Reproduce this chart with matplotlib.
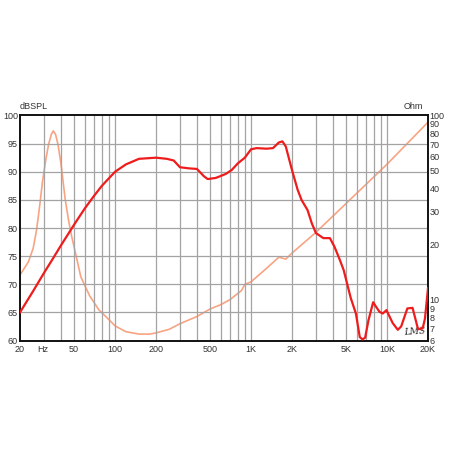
import matplotlib.pyplot as plt
import numpy as np

# SPL response (dB)
spl_freq = [20, 25, 30, 35, 40, 50, 60, 70, 80, 100, 120, 150, 200, 240, 270, 300,
            350, 400, 450, 480, 550, 650, 720, 800, 900, 1000, 1100, 1300, 1450,
            1600, 1700, 1800, 2000, 2200, 2350, 2600, 2800, 3000, 3400, 3800, 4100,
            4500, 4800, 5400, 5900, 6300, 6600, 6900, 7300, 7900, 8300, 8800, 9300,
            9900, 11000, 12000, 12700, 14100, 15400, 16900, 18300, 19000, 20000]
spl_db = [65.0, 68.8, 72.0, 74.6, 76.9, 80.6, 83.5, 85.7, 87.5, 90.0, 91.3, 92.3, 92.5,
          92.3, 92.0, 90.8, 90.6, 90.5, 89.2, 88.7, 88.9, 89.6, 90.3, 91.5, 92.5, 94.0,
          94.2, 94.1, 94.2, 95.2, 95.4, 94.5, 90.3, 86.8, 85.0, 83.2, 80.8, 79.1, 78.2,
          78.2, 76.7, 74.3, 72.5, 67.6, 64.8, 60.6, 60.2, 60.5, 63.6, 66.8, 66.0, 65.1,
          64.8, 65.4, 63.1, 61.9, 62.5, 65.7, 65.8, 62.0, 62.2, 63.9, 69.3]

# impedance (Ohm)
imp_freq = [20, 23, 25, 26.5, 28, 29.3, 31, 32.5, 34, 35.1, 36.5, 38, 40, 43, 45.5, 48,
            52, 56, 65, 76, 90, 100, 120, 150, 180, 200, 250, 300, 400, 500, 600, 700,
            850, 900, 1000, 1300, 1600, 1800, 2000, 3000, 5000, 10000, 20000]
imp_ohm = [13.6, 16.0, 19.0, 24.0, 33.0, 44.0, 58.0, 70.0, 79.0, 82.5, 79.0, 70.0, 55.0,
           35.0, 27.0, 22.0, 17.0, 13.3, 10.5, 8.8, 7.8, 7.2, 6.7, 6.5, 6.5, 6.6, 6.9,
           7.4, 8.1, 8.9, 9.4, 10.0, 11.2, 12.1, 12.5, 14.8, 17.0, 16.6, 17.9, 23.2,
           33.3, 54.4, 92.0]

x_ticks = [20, 50, 100, 200, 500, 1000, 2000, 5000, 10000, 20000]
x_labels = ['20', '50', '100', '200', '500', '1K', '2K', '5K', '10K', '20K']
db_ticks = [60, 65, 70, 75, 80, 85, 90, 95, 100]
ohm_ticks = [6, 7, 8, 9, 10, 20, 30, 40, 50, 60, 70, 80, 90, 100]

plt.rcParams['font.family'] = ['Liberation Sans', 'DejaVu Sans']
fs = 6.5

fig = plt.figure(figsize=(4.5, 4.5), dpi=100)
ax = fig.add_axes([20 / 450, 109.5 / 450, 408 / 450, 225 / 450])

ax.set_xscale('log')
ax.set_xlim(20, 20000)
ax.set_ylim(60, 100)

# grid: every 1..9 per decade, every 5 dB
grid_x = [m * 10 ** d for d in range(1, 5) for m in range(1, 10)]
for gx in grid_x:
    if 20 < gx < 20000:
        ax.axvline(gx, color='#a3a3a3', lw=0.9, zorder=1)
for gy in db_ticks[1:-1]:
    ax.axhline(gy, color='#a3a3a3', lw=0.9, zorder=1)

ax.set_xticks(x_ticks)
ax.set_xticklabels(x_labels)
ax.xaxis.set_minor_locator(plt.NullLocator())
ax.set_yticks(db_ticks)
ax.tick_params(axis='both', length=0, labelsize=fs, colors='#333333')
ax.tick_params(axis='x', pad=3)
ax.tick_params(axis='y', pad=1.5)
for s in ax.spines.values():
    s.set_linewidth(1.4)
    s.set_color('#111111')

ax2 = ax.twinx()
ax2.set_yscale('log')
ax2.set_ylim(6, 100)
ax2.set_yticks(ohm_ticks)
ax2.set_yticklabels([str(t) for t in ohm_ticks])
ax2.yaxis.set_minor_locator(plt.NullLocator())
ax2.tick_params(axis='y', length=0, labelsize=fs, pad=1, colors='#333333')
for s in ax2.spines.values():
    s.set_visible(False)

ax2.plot(imp_freq, imp_ohm, color='#f8a483', lw=1.2, zorder=3)
ax.plot(spl_freq, spl_db, color='#ee1c1c', lw=1.6, zorder=4)
ax.set_zorder(ax2.get_zorder() + 1)
ax.patch.set_visible(False)

ax.text(0, 1.02, 'dBSPL', transform=ax.transAxes, fontsize=fs, color='#333333',
        ha='left', va='bottom')
ax.text(0.988, 1.02, 'Ohm', transform=ax.transAxes, fontsize=fs, color='#333333',
        ha='right', va='bottom')
ax.annotate('Hz', xy=(26.7, 0), xycoords=('data', 'axes fraction'),
            xytext=(0, -3), textcoords='offset points', fontsize=fs,
            color='#333333', ha='left', va='top')
ax.text(16000, 61.6, 'LMS', fontsize=6.5, fontstyle='italic', family='DejaVu Serif',
        color='#222222', ha='center', va='center', rotation=4)

fig.savefig('out.png', dpi=100)
